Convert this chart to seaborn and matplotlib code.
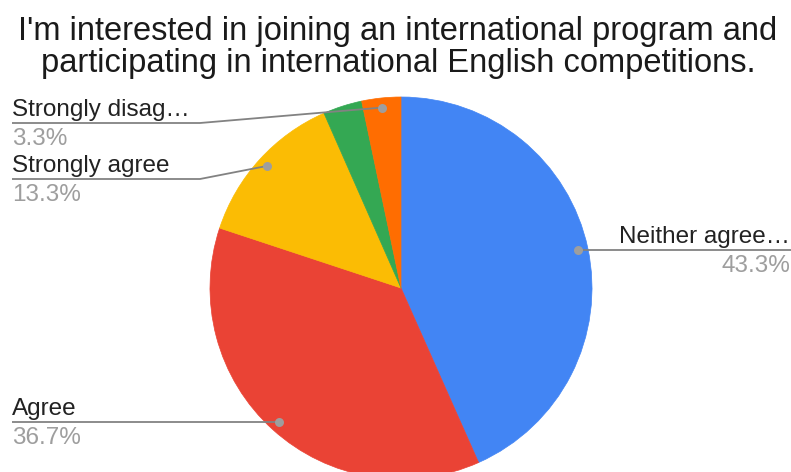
import matplotlib
matplotlib.use("Agg")
import matplotlib.pyplot as plt
import numpy as np
import seaborn as sns

# Survey question and responses
title_lines = [
    "I'm interested in joining an international program and",
    "participating in international English competitions.",
]
categories = ["Neither agree nor disagree", "Agree", "Strongly agree",
              "Disagree", "Strongly disagree"]
shown_labels = ["Neither agree…", "Agree", "Strongly agree", None, "Strongly disag…"]
percentages = [43.3, 36.7, 13.3, 3.3, 3.3]
slice_colors = ["#4285F4", "#EA4335", "#FBBC04", "#34A853", "#FF6D01"]

sns.set_theme(style="white")
plt.rcParams["font.family"] = ["Liberation Sans", "DejaVu Sans"]

W, H = 791, 472
fig = plt.figure(figsize=(W / 100, H / 100), dpi=100)
ax = fig.add_axes([0, 0, 1, 1])

# Pixel-like data space, y growing downward
cx, cy, radius = 401, 288, 191
wedges, _ = ax.pie(
    percentages,
    colors=sns.color_palette(slice_colors),
    startangle=-90,
    counterclock=True,
    center=(cx, cy),
    radius=radius,
    wedgeprops=dict(linewidth=0.5),
)
for w in wedges:
    w.set_edgecolor(w.get_facecolor())
ax.set_xlim(0, W)
ax.set_ylim(H, 0)
ax.set_aspect("equal")
ax.axis("off")

# Title
for i, line in enumerate(title_lines):
    ax.text(398, 40 + 32 * i, line, ha="center", va="baseline",
            fontsize=23.5, color="#1a1a1a")

# Leader-line layout: (side, line y, elbow x)
leader_layout = {
    0: ("right", None, None),
    1: ("left", None, 200),
    2: ("left", 179, 200),
    4: ("left", 123, 200),
}

line_color = "#828282"
label_fs = 17.5
for idx, (side, line_y, elbow_x) in leader_layout.items():
    w = wedges[idx]
    mid = np.deg2rad((w.theta1 + w.theta2) / 2)
    dx = cx + 0.95 * radius * np.cos(mid)
    dy = cy + 0.95 * radius * np.sin(mid)
    if line_y is None:
        line_y = dy
    if side == "right":
        xs = [dx, W]
        ys = [dy, line_y]
        tx, ha = W - 1, "right"
    else:
        xs = [dx, elbow_x, 12]
        ys = [dy, line_y, line_y]
        tx, ha = 12, "left"
    ax.plot(xs, ys, color=line_color, lw=1.3, solid_capstyle="butt", zorder=3)
    ax.scatter([dx], [dy], s=42, color="#9e9e9e", zorder=4, linewidths=0)
    ax.text(tx, line_y - 7, shown_labels[idx], ha=ha, va="baseline",
            fontsize=label_fs, color="#222222")
    ax.text(tx, line_y + 22, f"{percentages[idx]:.1f}%", ha=ha, va="baseline",
            fontsize=label_fs, color="#9e9e9e")

fig.savefig("out.png", dpi=100)
